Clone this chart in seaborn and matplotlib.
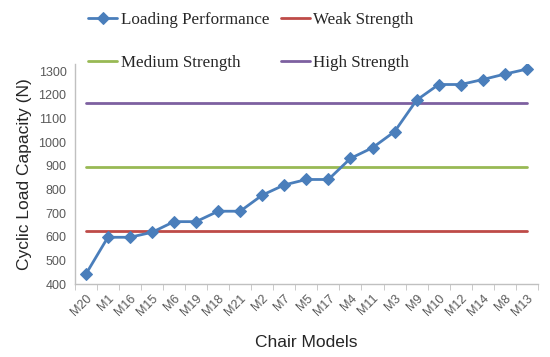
"""
Cyclic load capacity of chair models vs. strength thresholds
"""
import numpy as np
import pandas as pd
import matplotlib
matplotlib.use("Agg")
import matplotlib.pyplot as plt
import seaborn as sns

# Data
models = ["M20", "M1", "M16", "M15", "M6", "M19", "M18", "M21", "M2", "M7", "M5",
          "M17", "M4", "M11", "M3", "M9", "M10", "M12", "M14", "M8", "M13"]
load_capacity = [442, 598, 598, 619, 664, 664, 708, 708, 776, 819, 842,
                 842, 931, 976, 1044, 1177, 1243, 1243, 1264, 1287, 1308]
weak_strength = 623
medium_strength = 894
high_strength = 1166
y_ticks = [400, 500, 600, 700, 800, 900, 1000, 1100, 1200, 1300]

BLUE = "#4a7ebb"
RED = "#be4b48"
GREEN = "#98b954"
PURPLE = "#7d60a0"
GRAY = "#595959"

sns.set_style("white")
plt.rcParams["font.family"] = ["Liberation Sans", "DejaVu Sans"]

x = np.arange(len(models))
df = pd.DataFrame({
    "x": x,
    "load": load_capacity,
    "weak": [weak_strength] * len(models),
    "medium": [medium_strength] * len(models),
    "high": [high_strength] * len(models),
})

fig = plt.figure(figsize=(5.5, 3.57), dpi=100)
ax = fig.add_axes([0.136, 0.204, 0.842, 0.617])

sns.lineplot(data=df, x="x", y="weak", ax=ax, color=RED, linewidth=2, label="Weak Strength")
sns.lineplot(data=df, x="x", y="medium", ax=ax, color=GREEN, linewidth=2, label="Medium Strength")
sns.lineplot(data=df, x="x", y="high", ax=ax, color=PURPLE, linewidth=2, label="High Strength")
sns.lineplot(data=df, x="x", y="load", ax=ax, color=BLUE, linewidth=2, marker="D",
             markersize=6.5, markeredgecolor=BLUE, label="Loading Performance")

ax.set_xlim(-0.5, len(models) - 0.5)
ax.set_ylim(400, 1330)
ax.set_yticks(y_ticks)
ax.set_xticks(x)
ax.set_xticklabels(models, rotation=45, ha="right", rotation_mode="anchor")
ax.set_xticks(np.arange(len(models) + 1) - 0.5, minor=True)
ax.tick_params(axis="x", which="major", length=0, colors=GRAY, labelsize=9, pad=6)
ax.tick_params(axis="x", which="minor", length=4, color="#c0c0c0", direction="out")
ax.tick_params(axis="y", length=4, color="#c0c0c0", colors=GRAY, labelsize=9,
               direction="out", pad=2)
ax.tick_params(axis="x", which="minor", bottom=True)

for side in ["top", "right"]:
    ax.spines[side].set_visible(False)
for side in ["left", "bottom"]:
    ax.spines[side].set_color("#c0c0c0")
    ax.spines[side].set_linewidth(1)

ax.set_xlabel("Chair Models", fontsize=12.5, labelpad=12)
ax.set_ylabel("Cyclic Load Capacity (N)", fontsize=12.5, labelpad=5)

# Legend: row 1 = Loading / Weak, row 2 = Medium / High
handles, labels = ax.get_legend_handles_labels()
order = [labels.index(l) for l in ["Loading Performance", "Medium Strength",
                                   "Weak Strength", "High Strength"]]
ax.legend([handles[i] for i in order], [labels[i] for i in order],
          ncol=2, loc="upper left", bbox_to_anchor=(0.139, 1.0),
          bbox_transform=fig.transFigure, frameon=False,
          prop={"family": "Liberation Serif", "size": 12.25},
          handlelength=1.7, handletextpad=0.2, columnspacing=0.7,
          labelspacing=1.6, borderaxespad=0.3)

fig.savefig("out.png", dpi=100)
